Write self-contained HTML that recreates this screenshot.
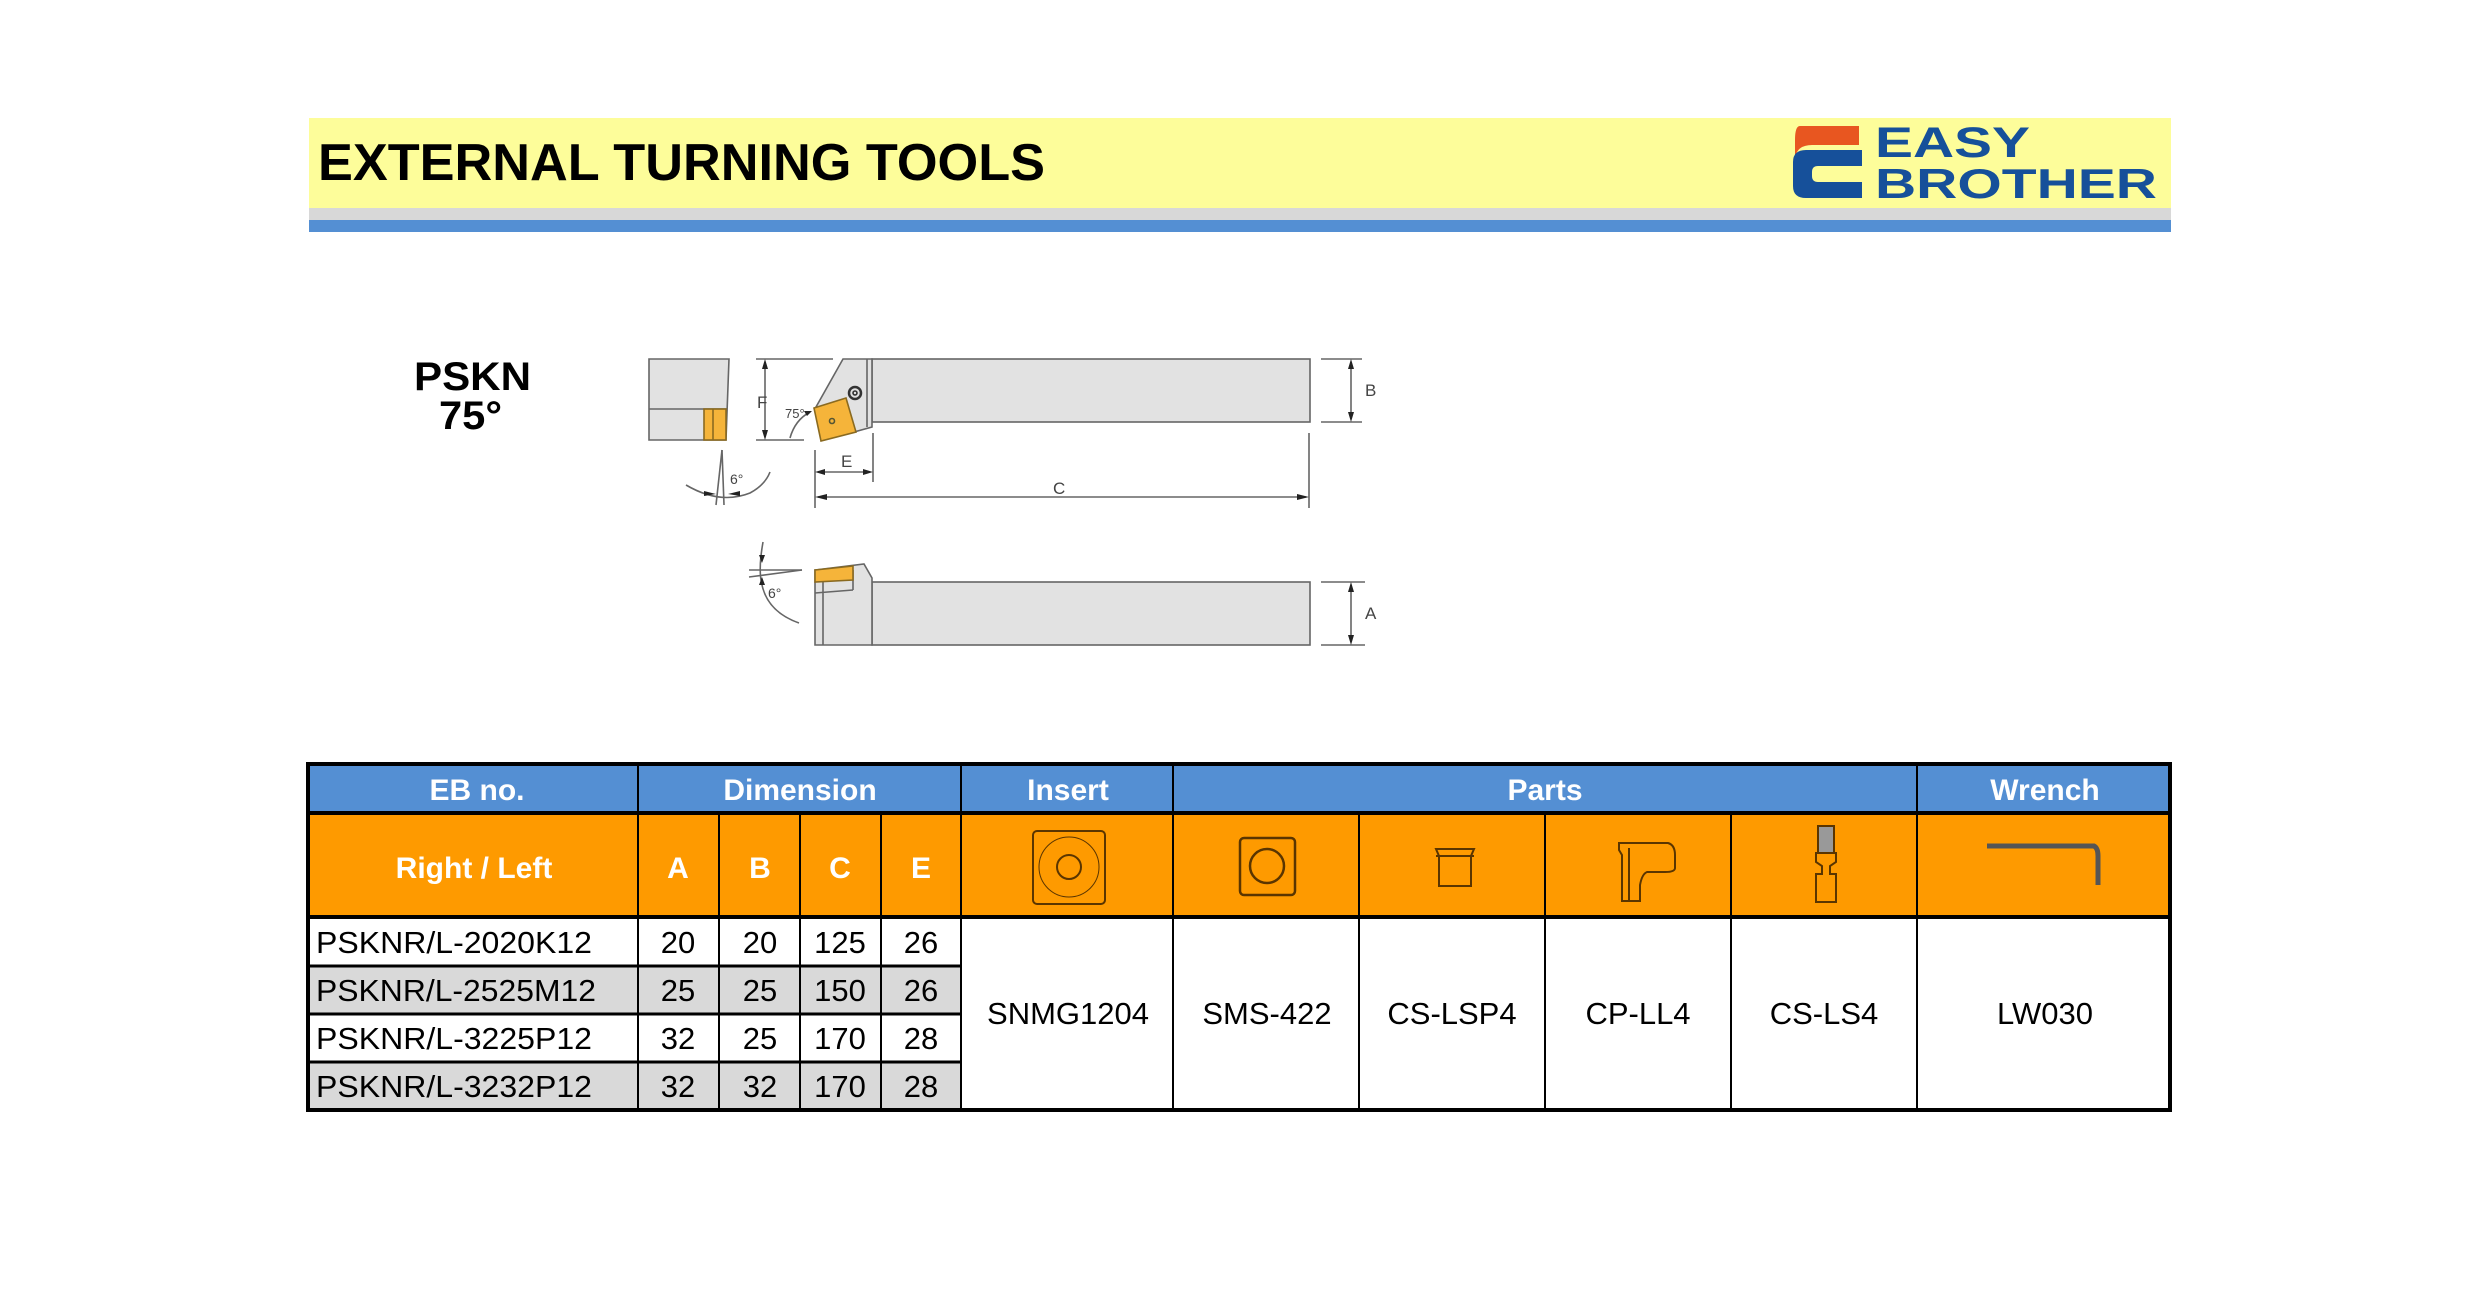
<!DOCTYPE html>
<html><head><meta charset="utf-8"><style>html,body{margin:0;padding:0;background:#fff}svg{display:block}</style></head>
<body>
<svg width="2480" height="1290" viewBox="0 0 2480 1290" xmlns="http://www.w3.org/2000/svg" font-family="'Liberation Sans', Arial, sans-serif">
<!-- Header -->
<rect x="309" y="118" width="1862" height="90" fill="#fdfd9a"/>
<rect x="309" y="208" width="1862" height="12" fill="#d8d8d8"/>
<rect x="309" y="220" width="1862" height="12" fill="#548fd3"/>
<text x="318" y="180" font-size="52" font-weight="bold" textLength="727" lengthAdjust="spacingAndGlyphs">EXTERNAL TURNING TOOLS</text>
<!-- logo -->
<path d="M1800,126 H1859 V145 H1812 Q1797,145 1795,158 V140 Q1795,126 1800,126Z" fill="#e85620"/>
<path d="M1806,150 H1862 V166 H1818 Q1812,166 1812,172 V176 Q1812,182 1818,182 H1862 V198 H1806 Q1793,198 1793,186 V162 Q1793,150 1806,150Z" fill="#16509a"/>
<text x="1875" y="157" font-size="43" font-weight="bold" fill="#16509a" textLength="155" lengthAdjust="spacingAndGlyphs">EASY</text>
<text x="1875" y="198" font-size="42" font-weight="bold" fill="#16509a" textLength="282" lengthAdjust="spacingAndGlyphs">BROTHER</text>

<!-- PSKN label -->
<text x="414" y="390" font-size="40" font-weight="bold" textLength="117" lengthAdjust="spacingAndGlyphs">PSKN</text>
<text x="439" y="429" font-size="40" font-weight="bold" textLength="63" lengthAdjust="spacingAndGlyphs">75°</text>

<!-- Drawing -->
<g stroke="#666" stroke-width="1.6" fill="none">
 <path d="M649,359 H729 L726,440 H649Z" fill="#e2e2e2"/>
 <line x1="649" y1="409" x2="727" y2="409"/>
 <rect x="704" y="409" width="22" height="31" fill="#f5b43a" stroke="#8a6a20"/>
 <line x1="713" y1="409" x2="713" y2="440" stroke="#8a6a20"/>
 <rect x="872" y="359" width="438" height="63" fill="#e2e2e2"/>
 <path d="M843,359 H872 V427 L854,432 L816,407 Z" fill="#e2e2e2"/>
 <line x1="867" y1="359" x2="867" y2="427"/>
 <path d="M814,408 L846,398 L856,432 L821,441 Z" fill="#f5b43a" stroke="#8a6a20"/>
 <circle cx="832" cy="421" r="2.5" stroke="#553"/>
 <circle cx="855" cy="393" r="6" stroke="#333" stroke-width="2.5"/>
 <circle cx="855" cy="393" r="2" stroke="#333"/>
 <line x1="756" y1="359" x2="833" y2="359"/>
 <line x1="756" y1="440" x2="804" y2="440"/>
 <line x1="765" y1="362" x2="765" y2="437"/>
 <path d="M790,438 Q795,420 810,412"/>
 <line x1="1321" y1="359" x2="1362" y2="359"/>
 <line x1="1321" y1="422" x2="1362" y2="422"/>
 <line x1="1351" y1="362" x2="1351" y2="419"/>
 <line x1="815" y1="450" x2="815" y2="508"/>
 <line x1="873" y1="433" x2="873" y2="482"/>
 <line x1="1309" y1="433" x2="1309" y2="508"/>
 <line x1="818" y1="472" x2="870" y2="472"/>
 <line x1="818" y1="497" x2="1306" y2="497"/>
 <line x1="722" y1="450" x2="716" y2="505"/>
 <line x1="722" y1="450" x2="724" y2="505"/>
 <path d="M686,485 Q720,505 750,493 Q765,485 770,472"/>
 <rect x="872" y="582" width="438" height="63" fill="#e2e2e2"/>
 <path d="M815,570 L864,564 L872,578 V645 H815 Z" fill="#e2e2e2"/>
 <line x1="823" y1="582" x2="823" y2="645"/>
 <line x1="815" y1="593" x2="853" y2="590"/>
 <line x1="853" y1="570" x2="853" y2="590"/>
 <path d="M815,570 L853,566 V580 L815,582 Z" fill="#f5b43a" stroke="#8a6a20"/>
 <line x1="1321" y1="582" x2="1365" y2="582"/>
 <line x1="1321" y1="645" x2="1365" y2="645"/>
 <line x1="1351" y1="585" x2="1351" y2="642"/>
 <line x1="749" y1="570" x2="802" y2="570"/>
 <line x1="749" y1="577" x2="802" y2="570"/>
 <path d="M763,542 Q758,570 762,585"/>
 <path d="M762,585 Q768,612 799,623"/>
</g>
<g fill="#222">
 <path d="M765,359 l-3,10 h6Z M765,440 l-3,-10 h6Z"/>
 <path d="M1351,359 l-3,10 h6Z M1351,422 l-3,-10 h6Z"/>
 <path d="M1351,582 l-3,10 h6Z M1351,645 l-3,-10 h6Z"/>
 <path d="M815,472 l10,-3 v6Z M873,472 l-10,-3 v6Z"/>
 <path d="M815,497 l12,-3 v6Z M1309,497 l-12,-3 v6Z"/>
 <path d="M812,411 l-8,0 l3,5Z"/>
 <path d="M716,494 l-12,-3 v5Z M728,494 l12,-3 v5Z"/>
 <path d="M762,563 l-3,-8 h6Z M762,577 l-3,8 h6Z"/>
</g>
<g font-size="17" fill="#444" font-family="'Liberation Sans', sans-serif">
 <text x="757" y="408">F</text>
 <text x="785" y="418" font-size="13">75°</text>
 <text x="1365" y="396">B</text>
 <text x="1365" y="619">A</text>
 <text x="841" y="467">E</text>
 <text x="1053" y="494">C</text>
 <text x="730" y="484" font-size="14">6°</text>
 <text x="768" y="598" font-size="14">6°</text>
</g>

<!-- Table -->
<rect x="306" y="764" width="1866" height="48" fill="#548fd3"/>
<rect x="306" y="815" width="1866" height="101" fill="#fe9a00"/>
<rect x="306" y="919" width="1866" height="191" fill="#fff"/>
<rect x="306" y="966" width="655" height="48" fill="#d9d9d9"/>
<rect x="306" y="1062" width="655" height="48" fill="#d9d9d9"/>
<g stroke="#000" fill="none">
 <rect x="308" y="764" width="1862" height="346" stroke-width="4"/>
 <line x1="306" y1="813" x2="2172" y2="813" stroke-width="4"/>
 <line x1="306" y1="917" x2="2172" y2="917" stroke-width="4"/>
 <line x1="306" y1="966" x2="961" y2="966" stroke-width="3"/>
 <line x1="306" y1="1014" x2="961" y2="1014" stroke-width="3"/>
 <line x1="306" y1="1062" x2="961" y2="1062" stroke-width="3"/>
 <g stroke-width="2">
  <line x1="638" y1="764" x2="638" y2="1110"/>
  <line x1="961" y1="764" x2="961" y2="1110"/>
  <line x1="1173" y1="764" x2="1173" y2="1110"/>
  <line x1="1917" y1="764" x2="1917" y2="1110"/>
  <line x1="719" y1="815" x2="719" y2="1110"/>
  <line x1="800" y1="815" x2="800" y2="1110"/>
  <line x1="881" y1="815" x2="881" y2="1110"/>
  <line x1="1359" y1="815" x2="1359" y2="1110"/>
  <line x1="1545" y1="815" x2="1545" y2="1110"/>
  <line x1="1731" y1="815" x2="1731" y2="1110"/>
 </g>
</g>
<g fill="#fff" font-size="30" font-weight="bold" text-anchor="middle">
 <text x="477" y="800">EB no.</text>
 <text x="800" y="800">Dimension</text>
 <text x="1068" y="800">Insert</text>
 <text x="1545" y="800">Parts</text>
 <text x="2045" y="800">Wrench</text>
 <text x="474" y="878">Right / Left</text>
 <text x="678" y="878">A</text>
 <text x="760" y="878">B</text>
 <text x="840" y="878">C</text>
 <text x="921" y="878">E</text>
</g>
<!-- icons -->
<g fill="none" stroke="#5a3500" stroke-width="2">
 <rect x="1033" y="831" width="72" height="73" rx="4"/>
 <circle cx="1069" cy="867" r="30" stroke-width="1"/>
 <circle cx="1069" cy="867" r="12"/>
 <rect x="1240" y="838" width="55" height="57" rx="4" stroke-width="2.5"/>
 <circle cx="1267" cy="866" r="17" stroke-width="2.5"/>
 <path d="M1436,849 H1474 L1471,856 V886 H1439 V856 Z"/>
 <line x1="1436" y1="856" x2="1474" y2="856"/>
 <path d="M1619,843 H1668 Q1675,845 1675,855 V868 Q1675,872 1665,872 H1647 Q1642,874 1640,885 V901 H1622 V855 L1619,850Z"/>
 <line x1="1629" y1="848" x2="1629" y2="900"/>
 <rect x="1818" y="826" width="16" height="27" fill="#999"/>
 <path d="M1816,853 H1836 V862 L1830,866 V874 H1836 V902 H1816 V874 H1822 V866 L1816,862Z"/>
</g>
<path d="M1987,846 H2094 Q2098,848 2098,856 V885" fill="none" stroke="#555" stroke-width="5"/>
<!-- data -->
<g font-size="31" fill="#000">
 <text x="316" y="953" textLength="276" lengthAdjust="spacingAndGlyphs">PSKNR/L-2020K12</text>
 <text x="316" y="1001" textLength="280" lengthAdjust="spacingAndGlyphs">PSKNR/L-2525M12</text>
 <text x="316" y="1049" textLength="276" lengthAdjust="spacingAndGlyphs">PSKNR/L-3225P12</text>
 <text x="316" y="1097" textLength="276" lengthAdjust="spacingAndGlyphs">PSKNR/L-3232P12</text>
</g>
<g font-size="31" fill="#000" text-anchor="middle">
 <text x="678" y="953">20</text><text x="760" y="953">20</text><text x="840" y="953">125</text><text x="921" y="953">26</text>
 <text x="678" y="1001">25</text><text x="760" y="1001">25</text><text x="840" y="1001">150</text><text x="921" y="1001">26</text>
 <text x="678" y="1049">32</text><text x="760" y="1049">25</text><text x="840" y="1049">170</text><text x="921" y="1049">28</text>
 <text x="678" y="1097">32</text><text x="760" y="1097">32</text><text x="840" y="1097">170</text><text x="921" y="1097">28</text>
 <text x="1068" y="1024">SNMG1204</text>
 <text x="1267" y="1024">SMS-422</text>
 <text x="1452" y="1024">CS-LSP4</text>
 <text x="1638" y="1024">CP-LL4</text>
 <text x="1824" y="1024">CS-LS4</text>
 <text x="2045" y="1024">LW030</text>
</g>
</svg>
</body></html>
